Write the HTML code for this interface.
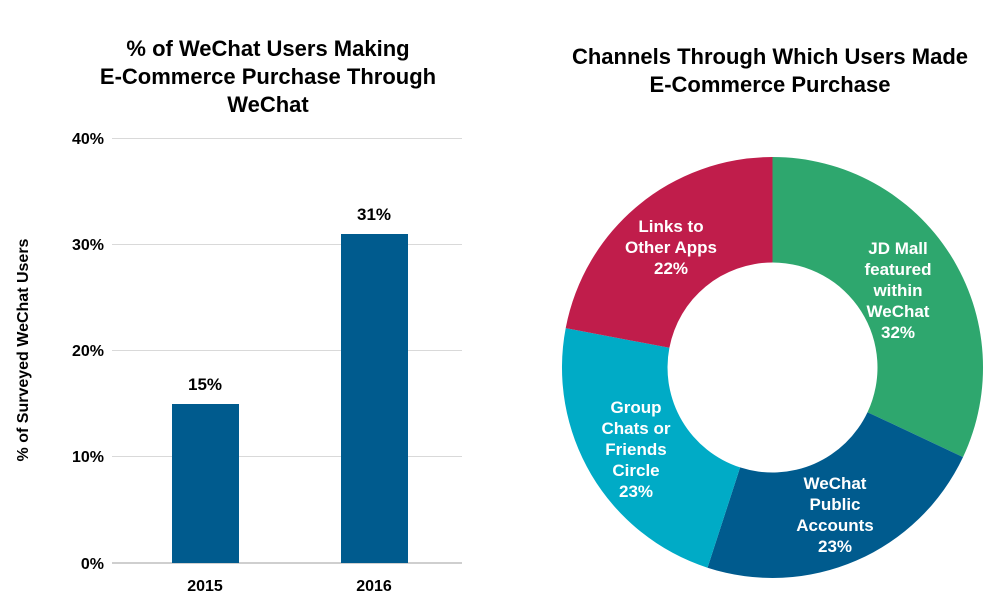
<!DOCTYPE html>
<html><head><meta charset="utf-8"><style>
html,body{margin:0;padding:0;background:#fff;}
svg{display:block;font-family:"Liberation Sans",Arial,sans-serif;font-weight:bold;}
</style></head><body>
<svg width="1000" height="609" viewBox="0 0 1000 609">
<g font-size="22" fill="#000" text-anchor="middle">
<text x="268" y="56">% of WeChat Users Making</text>
<text x="268" y="84">E-Commerce Purchase Through</text>
<text x="268" y="112">WeChat</text>
<text x="770" y="64">Channels Through Which Users Made</text>
<text x="770" y="92">E-Commerce Purchase</text>
</g>
<g stroke="#d9d9d9" stroke-width="1">
<line x1="112" y1="138.5" x2="462" y2="138.5"/>
<line x1="112" y1="244.5" x2="462" y2="244.5"/>
<line x1="112" y1="350.5" x2="462" y2="350.5"/>
<line x1="112" y1="456.5" x2="462" y2="456.5"/>
</g>
<line x1="112" y1="563" x2="462" y2="563" stroke="#bfbfbf" stroke-width="1.5"/>
<g font-size="16" fill="#000" text-anchor="end">
<text x="104" y="144">40%</text>
<text x="104" y="250">30%</text>
<text x="104" y="356">20%</text>
<text x="104" y="462">10%</text>
<text x="104" y="569">0%</text>
</g>
<text transform="translate(28,350) rotate(-90)" font-size="16" text-anchor="middle">% of Surveyed WeChat Users</text>
<rect x="172" y="404" width="67" height="159" fill="#005b8e"/>
<rect x="341" y="234" width="67" height="329" fill="#005b8e"/>
<g font-size="17" text-anchor="middle">
<text x="205" y="390">15%</text>
<text x="374" y="220">31%</text>
<text x="205" y="591" font-size="16">2015</text>
<text x="374" y="591" font-size="16">2016</text>
</g>
<path d="M772.5 157 A210.5 210.5 0 0 1 963 457.1 L867.5 412.2 A105 105 0 0 0 772.5 262.5 Z" fill="#2ea76e"/>
<path d="M963 457.1 A210.5 210.5 0 0 1 707.5 567.7 L740.1 467.4 A105 105 0 0 0 867.5 412.2 Z" fill="#005b8e"/>
<path d="M707.5 567.7 A210.5 210.5 0 0 1 565.7 328.1 L669.4 347.8 A105 105 0 0 0 740.1 467.4 Z" fill="#00abc6"/>
<path d="M565.7 328.1 A210.5 210.5 0 0 1 772.5 157 L772.5 262.5 A105 105 0 0 0 669.4 347.8 Z" fill="#c01d4b"/>
<g font-size="17" fill="#fff" text-anchor="middle">
<text x="671" y="232">Links to</text>
<text x="671" y="253">Other Apps</text>
<text x="671" y="274">22%</text>
<text x="898" y="254">JD Mall</text>
<text x="898" y="275">featured</text>
<text x="898" y="296">within</text>
<text x="898" y="317">WeChat</text>
<text x="898" y="338">32%</text>
<text x="636" y="413">Group</text>
<text x="636" y="434">Chats or</text>
<text x="636" y="455">Friends</text>
<text x="636" y="476">Circle</text>
<text x="636" y="497">23%</text>
<text x="835" y="489">WeChat</text>
<text x="835" y="510">Public</text>
<text x="835" y="531">Accounts</text>
<text x="835" y="552">23%</text>
</g>
</svg>
</body></html>
